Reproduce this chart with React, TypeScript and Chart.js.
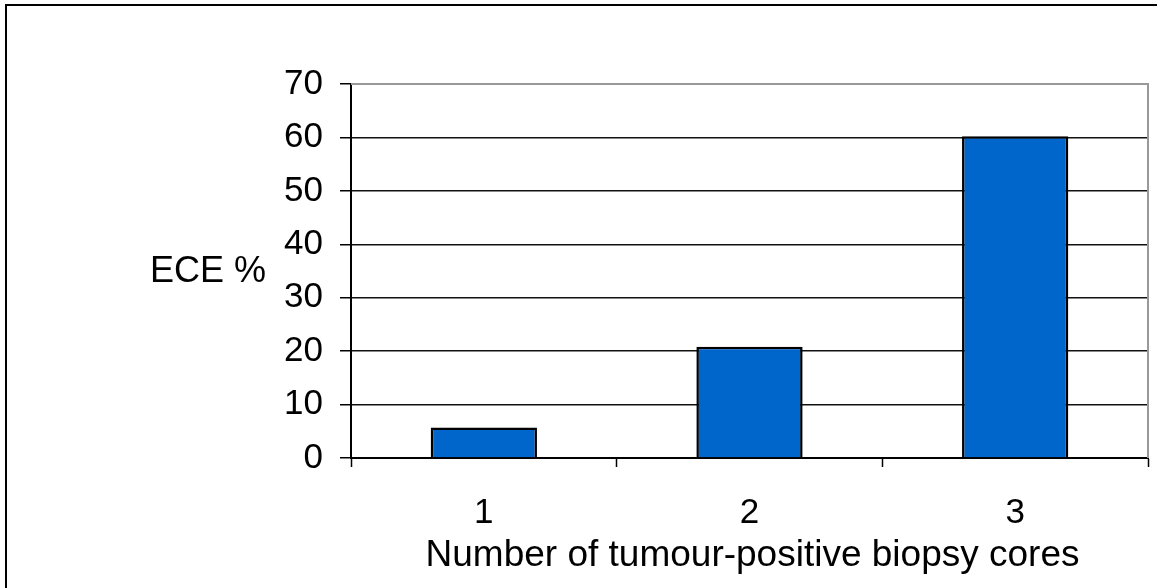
import React, { useEffect, useRef } from "react";
import { Chart, registerables } from "chart.js";

Chart.register(...registerables);

const categories = ["1", "2", "3"];
const eceValues = [5.7, 20.8, 60.2];
const yTicks = [0, 10, 20, 30, 40, 50, 60, 70];
const yTitle = "ECE %";
const xTitle = "Number of tumour-positive biopsy cores";

const FONT = "'Liberation Sans', Arial, sans-serif";

const framePlugin = {
  id: "frame",
  beforeDatasetsDraw(chart: any) {
    const { ctx, chartArea } = chart;
    ctx.save();
    ctx.strokeStyle = "#999";
    ctx.lineWidth = 2;
    ctx.beginPath();
    ctx.moveTo(chartArea.left, chartArea.top);
    ctx.lineTo(chartArea.right, chartArea.top);
    ctx.lineTo(chartArea.right, chartArea.bottom);
    ctx.stroke();
    ctx.restore();
  },
  afterDraw(chart: any) {
    const { ctx, chartArea, width, height } = chart;
    ctx.save();
    ctx.strokeStyle = "#000";
    ctx.lineWidth = 2;
    ctx.beginPath();
    ctx.moveTo(6, height + 2);
    ctx.lineTo(6, 5);
    ctx.lineTo(width + 2, 5);
    ctx.stroke();
    ctx.fillStyle = "#000";
    ctx.textBaseline = "middle";
    ctx.textAlign = "left";
    ctx.font = `36px ${FONT}`;
    ctx.fillText(yTitle, 150, 272);
    ctx.textAlign = "center";
    ctx.font = `37px ${FONT}`;
    ctx.fillText(xTitle, (chartArea.left + chartArea.right) / 2 + 3, 556);
    ctx.restore();
  },
};

export default function App() {
  const ref = useRef<HTMLCanvasElement>(null);
  useEffect(() => {
    const chart = new Chart(ref.current!, {
      type: "bar",
      data: {
        labels: categories,
        datasets: [
          {
            data: eceValues,
            backgroundColor: "#0066CC",
            borderColor: "#000",
            borderWidth: 2.5,
            barPercentage: 0.4,
            categoryPercentage: 1,
          },
        ],
      },
      options: {
        animation: false,
        responsive: false,
        layout: { padding: { top: 84, right: 9, left: 0, bottom: 0 } },
        plugins: {
          legend: { display: false },
          tooltip: { enabled: false },
        },
        scales: {
          x: {
            grid: {
              drawOnChartArea: false,
              drawTicks: true,
              tickLength: 9,
              tickColor: "#000",
              tickWidth: 1.5,
            },
            border: { display: true, color: "#000", width: 2 },
            ticks: {
              color: "#000",
              font: { family: FONT, size: 35 },
              padding: 25,
            },
            afterFit(scale: any) {
              scale.height = 130;
            },
          },
          y: {
            min: 0,
            max: 70,
            afterBuildTicks(scale: any) {
              scale.ticks = yTicks.map((v) => ({ value: v }));
            },
            grid: {
              color: (c: any) =>
                c.tick && c.tick.value === 70 ? "rgba(0,0,0,0)" : "#111",
              lineWidth: 1.5,
              tickLength: 11,
              tickColor: "#000",
              tickWidth: 1.5,
            },
            border: { display: true, color: "#000", width: 2 },
            ticks: {
              color: "#000",
              font: { family: FONT, size: 35 },
              padding: 17,
            },
            afterFit(scale: any) {
              scale.width = 351;
            },
          },
        },
      },
      plugins: [framePlugin],
    });
    return () => chart.destroy();
  }, []);
  return (
    <div style={{ position: "fixed", left: 0, top: 0, width: 1157, height: 588, background: "#fff" }}>
      <canvas ref={ref} width={1157} height={588} style={{ display: "block" }} />
    </div>
  );
}
